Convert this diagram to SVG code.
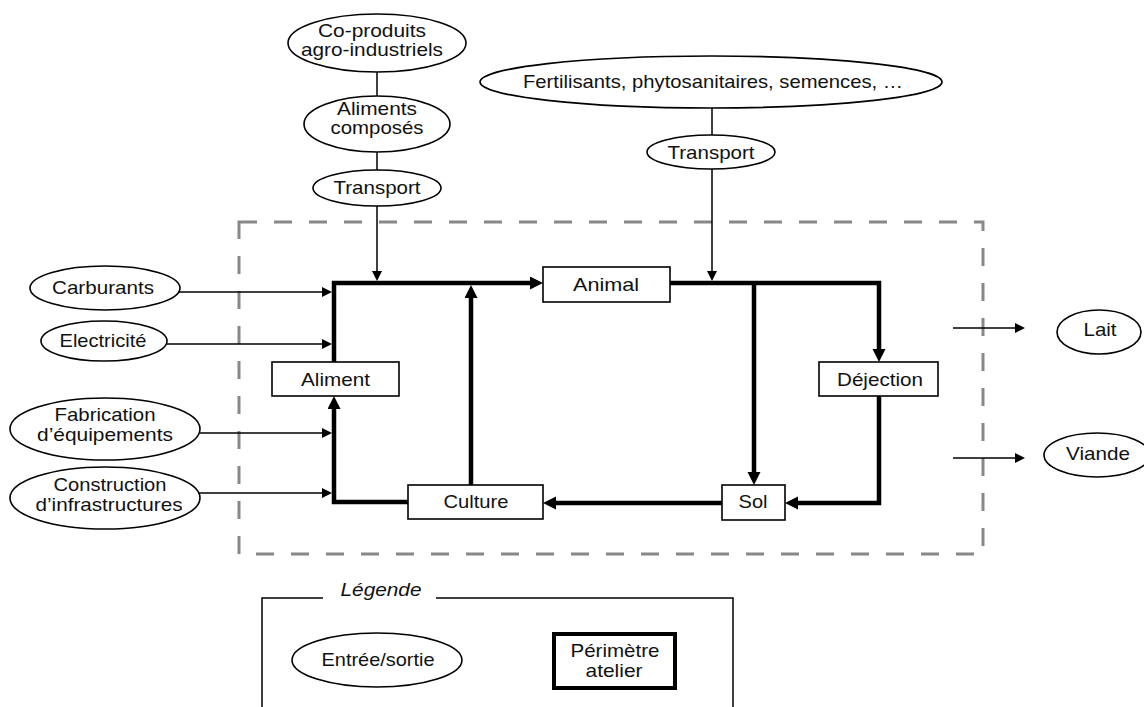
<svg xmlns="http://www.w3.org/2000/svg" width="1144" height="707" viewBox="0 0 1144 707">
<defs>
<style>
.e{fill:#fff;stroke:#000;stroke-width:1.6}
.b{fill:#fff;stroke:#000;stroke-width:1.6}
.t{font-family:"Liberation Sans",Arial,sans-serif;font-size:19px;fill:#111;text-anchor:middle}
.thick{fill:none;stroke:#000;stroke-width:4.5;stroke-linejoin:miter}
.thin{fill:none;stroke:#000;stroke-width:1.5}
</style>
<marker id="ah" markerUnits="userSpaceOnUse" markerWidth="14" markerHeight="14" refX="0" refY="6.5" orient="auto" viewBox="0 0 14 14">
<path d="M0,0 L13,6.5 L0,13 z" fill="#000"/>
</marker>
<marker id="as" markerUnits="userSpaceOnUse" markerWidth="11" markerHeight="11" refX="0" refY="5" orient="auto" viewBox="0 0 11 11">
<path d="M0,0 L10,5 L0,10 z" fill="#000"/>
</marker>
</defs>
<rect width="1144" height="707" fill="#fff"/>
<rect id="perimetre" x="239" y="222" width="744" height="332" fill="none" stroke="#888" stroke-width="3" stroke-dasharray="18 17"/>
<g id="connectors">
<path class="thin" d="M377,72 V97"/>
<path class="thin" d="M377,152 V170"/>
<path class="thin" d="M712,108 V135"/>
<path class="thin" d="M377,206 V271" marker-end="url(#as)"/>
<path class="thin" d="M712,169 V271" marker-end="url(#as)"/>
<path class="thin" d="M179,292 H322" marker-end="url(#as)"/>
<path class="thin" d="M167,344 H322" marker-end="url(#as)"/>
<path class="thin" d="M200,433 H322" marker-end="url(#as)"/>
<path class="thin" d="M199,493 H322" marker-end="url(#as)"/>
<path class="thin" d="M953,328 H1015" marker-end="url(#as)"/>
<path class="thin" d="M953,458 H1015" marker-end="url(#as)"/>
<path class="thick" d="M334,362 V283 H530" marker-end="url(#ah)"/>
<path class="thick" d="M408,502 H334 V409" marker-end="url(#ah)"/>
<path class="thick" d="M471,485 V298" marker-end="url(#ah)"/>
<path class="thick" d="M670,283 H879 V349" marker-end="url(#ah)"/>
<path class="thick" d="M754,283 V472" marker-end="url(#ah)"/>
<path class="thick" d="M879,396 V503 H798" marker-end="url(#ah)"/>
<path class="thick" d="M722,503 H556" marker-end="url(#ah)"/>
</g>
<g id="coproduits"><ellipse class="e" cx="377" cy="43" rx="89" ry="29"/><text class="t" x="372" y="37" textLength="108" lengthAdjust="spacingAndGlyphs">Co-produits</text><text class="t" x="372" y="56" textLength="142" lengthAdjust="spacingAndGlyphs">agro-industriels</text></g>
<g id="aliments-composes"><ellipse class="e" cx="377" cy="124" rx="73" ry="28"/><text class="t" x="377" y="115" textLength="80" lengthAdjust="spacingAndGlyphs">Aliments</text><text class="t" x="377" y="134" textLength="93" lengthAdjust="spacingAndGlyphs">composés</text></g>
<g id="transport1"><ellipse class="e" cx="377" cy="188" rx="64" ry="18"/><text class="t" x="377" y="194" textLength="87" lengthAdjust="spacingAndGlyphs">Transport</text></g>
<g id="fertilisants"><ellipse class="e" cx="711" cy="82" rx="231" ry="26"/><text class="t" x="713" y="88" textLength="380" lengthAdjust="spacingAndGlyphs">Fertilisants, phytosanitaires, semences, …</text></g>
<g id="transport2"><ellipse class="e" cx="711" cy="152" rx="64" ry="17"/><text class="t" x="711" y="159" textLength="87" lengthAdjust="spacingAndGlyphs">Transport</text></g>
<g id="carburants"><ellipse class="e" cx="105" cy="288" rx="75" ry="22"/><text class="t" x="103" y="294" textLength="102" lengthAdjust="spacingAndGlyphs">Carburants</text></g>
<g id="electricite"><ellipse class="e" cx="104" cy="341" rx="63" ry="20"/><text class="t" x="103" y="347" textLength="87" lengthAdjust="spacingAndGlyphs">Electricité</text></g>
<g id="fabrication"><ellipse class="e" cx="105" cy="429" rx="95" ry="31"/><text class="t" x="105" y="421" textLength="101" lengthAdjust="spacingAndGlyphs">Fabrication</text><text class="t" x="105" y="441" textLength="136" lengthAdjust="spacingAndGlyphs">d’équipements</text></g>
<g id="construction"><ellipse class="e" cx="105" cy="498" rx="95" ry="31"/><text class="t" x="110" y="491" textLength="113" lengthAdjust="spacingAndGlyphs">Construction</text><text class="t" x="109" y="511" textLength="147" lengthAdjust="spacingAndGlyphs">d’infrastructures</text></g>
<g id="aliment"><rect class="b" x="272" y="362" width="127" height="34"/><text class="t" x="335.5" y="386" textLength="69" lengthAdjust="spacingAndGlyphs">Aliment</text></g>
<g id="animal"><rect class="b" x="543" y="267" width="127" height="35"/><text class="t" x="606" y="291" textLength="66" lengthAdjust="spacingAndGlyphs">Animal</text></g>
<g id="dejection"><rect class="b" x="819" y="362" width="119" height="34"/><text class="t" x="880" y="386" textLength="86" lengthAdjust="spacingAndGlyphs">Déjection</text></g>
<g id="culture"><rect class="b" x="408" y="485" width="135" height="34"/><text class="t" x="476" y="508" textLength="65" lengthAdjust="spacingAndGlyphs">Culture</text></g>
<g id="sol"><rect class="b" x="722" y="485" width="63" height="35"/><text class="t" x="753" y="508" textLength="29" lengthAdjust="spacingAndGlyphs">Sol</text></g>
<g id="lait"><ellipse class="e" cx="1099" cy="332" rx="42" ry="22"/><text class="t" x="1100" y="336" textLength="33" lengthAdjust="spacingAndGlyphs">Lait</text></g>
<g id="viande"><ellipse class="e" cx="1097" cy="455" rx="53" ry="22"/><text class="t" x="1098" y="460" textLength="64" lengthAdjust="spacingAndGlyphs">Viande</text></g>
<g id="legende">
<path d="M323,598 H262 V712 M436,598 H733 V712" fill="none" stroke="#000" stroke-width="1.5"/>
<text class="t" x="381" y="596" font-style="italic" textLength="81" lengthAdjust="spacingAndGlyphs">Légende</text>
<ellipse class="e" cx="377" cy="660" rx="85" ry="27"/>
<text class="t" x="378" y="666" textLength="113" lengthAdjust="spacingAndGlyphs">Entrée/sortie</text>
<rect x="554" y="634" width="121" height="54" fill="#fff" stroke="#000" stroke-width="4"/>
<text class="t" x="615" y="657" textLength="89" lengthAdjust="spacingAndGlyphs">Périmètre</text>
<text class="t" x="614" y="677" textLength="57" lengthAdjust="spacingAndGlyphs">atelier</text>
</g>
</svg>
